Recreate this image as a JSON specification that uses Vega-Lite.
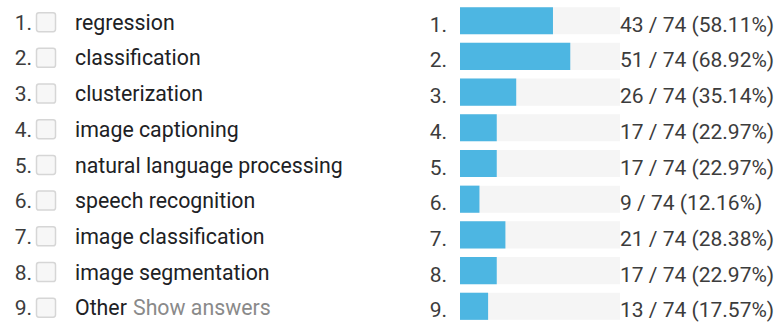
{
  "$schema": "https://vega.github.io/schema/vega-lite/v6.json",
  "width": 776,
  "height": 327,
  "padding": 0,
  "autosize": {"type": "fit", "contains": "padding"},
  "background": "white",
  "config": {"view": {"stroke": null}},
  "data": {
    "values": [
      {"num": "1.", "label": "regression", "count": 43, "total": 74, "result": "43 / 74 (58.11%)"},
      {"num": "2.", "label": "classification", "count": 51, "total": 74, "result": "51 / 74 (68.92%)"},
      {"num": "3.", "label": "clusterization", "count": 26, "total": 74, "result": "26 / 74 (35.14%)"},
      {"num": "4.", "label": "image captioning", "count": 17, "total": 74, "result": "17 / 74 (22.97%)"},
      {"num": "5.", "label": "natural language processing", "count": 17, "total": 74, "result": "17 / 74 (22.97%)"},
      {"num": "6.", "label": "speech recognition", "count": 9, "total": 74, "result": "9 / 74 (12.16%)"},
      {"num": "7.", "label": "image classification", "count": 21, "total": 74, "result": "21 / 74 (28.38%)"},
      {"num": "8.", "label": "image segmentation", "count": 17, "total": 74, "result": "17 / 74 (22.97%)"},
      {"num": "9.", "label": "Other", "extra": "Show answers", "count": 13, "total": 74, "result": "13 / 74 (17.57%)"}
    ]
  },
  "encoding": {
    "y": {
      "field": "num",
      "type": "ordinal",
      "axis": null,
      "scale": {"paddingInner": 0.24, "paddingOuter": 0.2}
    }
  },
  "layer": [
    {
      "mark": {"type": "bar", "color": "#f5f5f5"},
      "encoding": {
        "x": {"field": "total", "type": "quantitative", "scale": {"domain": [0, 74], "range": [460, 620], "nice": false}, "axis": null}
      }
    },
    {
      "mark": {"type": "bar", "color": "#4db6e2"},
      "encoding": {
        "x": {"field": "count", "type": "quantitative"}
      }
    },
    {
      "mark": {"type": "text", "align": "right", "baseline": "middle", "font": "Roboto", "fontSize": 21, "color": "#3c3c3c", "dy": 5},
      "encoding": {
        "x": {"value": 447},
        "text": {"field": "num", "type": "nominal"}
      }
    },
    {
      "mark": {"type": "text", "align": "left", "baseline": "middle", "font": "Roboto", "fontSize": 21, "color": "#3c3c3c", "dy": 5},
      "encoding": {
        "x": {"value": 620},
        "text": {"field": "result", "type": "nominal"}
      }
    },
    {
      "mark": {"type": "text", "align": "right", "baseline": "middle", "font": "Roboto", "fontSize": 21, "color": "#3c3c3c", "dy": 3},
      "encoding": {
        "x": {"value": 32},
        "text": {"field": "num", "type": "nominal"}
      }
    },
    {
      "mark": {
        "type": "point",
        "filled": true,
        "fill": "#f7f7f7",
        "stroke": "#d6d6d6",
        "strokeWidth": 1.5,
        "opacity": 1,
        "size": 361,
        "shape": "M -0.75 -0.85 L 0.75 -0.85 Q 1 -0.85 1 -0.6 L 1 0.9 Q 1 1.15 0.75 1.15 L -0.75 1.15 Q -1 1.15 -1 0.9 L -1 -0.6 Q -1 -0.85 -0.75 -0.85 Z"
      },
      "encoding": {
        "x": {"value": 46}
      }
    },
    {
      "mark": {"type": "text", "align": "left", "baseline": "middle", "font": "Roboto", "fontSize": 21.3, "color": "#202124", "dy": 3},
      "encoding": {
        "x": {"value": 75},
        "text": {"field": "label", "type": "nominal"}
      }
    },
    {
      "transform": [{"filter": "isValid(datum.extra)"}],
      "mark": {"type": "text", "align": "left", "baseline": "middle", "font": "Roboto", "fontSize": 21.3, "color": "#8a8a8a", "dy": 3},
      "encoding": {
        "x": {"value": 133},
        "text": {"field": "extra", "type": "nominal"}
      }
    }
  ]
}
